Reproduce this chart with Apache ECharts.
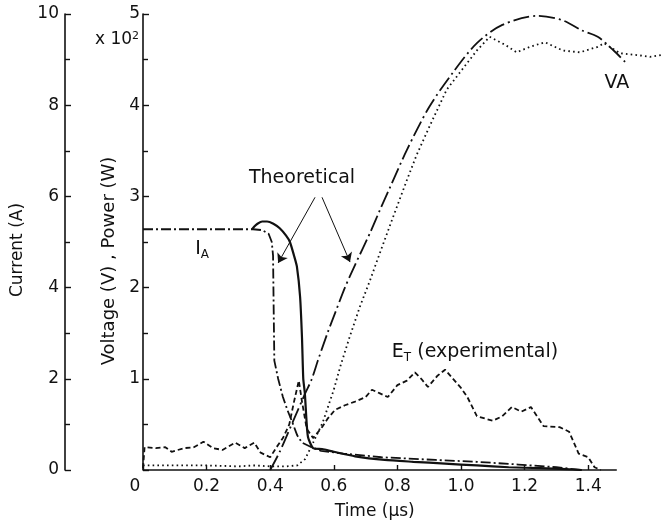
<!DOCTYPE html>
<html>
<head>
<meta charset="utf-8">
<script src="https://cdn.jsdelivr.net/npm/echarts@6/dist/echarts.min.js"></script>
<style>
html, body { margin: 0; padding: 0; background: #fff; }
#chart { width: 665px; height: 528px; }
</style>
</head>
<body>
<div id="chart"></div>
<script>
// time in µs; current in A; voltage / power in units of 10^2
const timeTicks = [0, 0.2, 0.4, 0.6, 0.8, 1.0, 1.2, 1.4];
const iaTheory = [
    [0, 5.28], [0.2, 5.28], [0.346, 5.28], [0.375, 5.26], [0.395, 5.18], [0.405, 5.0],
    [0.409, 4.7], [0.411, 3.5], [0.413, 2.4], [0.425, 2.0], [0.44, 1.6], [0.455, 1.3],
    [0.47, 1.04], [0.485, 0.76], [0.5, 0.6], [0.53, 0.5], [0.56, 0.42], [0.63, 0.36],
    [0.75, 0.28], [0.92, 0.22], [1.05, 0.18], [1.18, 0.12], [1.3, 0.06], [1.38, 0],
];
const iaExp = [
    [0.343, 5.28], [0.35, 5.34], [0.36, 5.4], [0.375, 5.45], [0.39, 5.45], [0.41, 5.4],
    [0.43, 5.3], [0.45, 5.14], [0.462, 5.0], [0.475, 4.7], [0.484, 4.46], [0.494, 3.8],
    [0.5, 2.9], [0.504, 2.0], [0.509, 1.68], [0.514, 1.1], [0.519, 0.72], [0.535, 0.48],
    [0.563, 0.46], [0.6, 0.4], [0.667, 0.3], [0.76, 0.22], [0.85, 0.18], [0.95, 0.14],
    [1.05, 0.1], [1.15, 0.06], [1.25, 0.04], [1.33, 0.02], [1.38, 0],
];
const vaTheory = [
    [0.4, 0], [0.43, 0.2], [0.47, 0.52], [0.51, 0.84], [0.53, 0.99], [0.55, 1.2],
    [0.58, 1.5], [0.604, 1.72], [0.635, 2.0], [0.667, 2.25], [0.714, 2.6], [0.745, 2.85],
    [0.777, 3.1], [0.83, 3.51], [0.9, 3.98], [0.975, 4.36], [1.05, 4.68], [1.13, 4.88],
    [1.24, 4.98], [1.32, 4.93], [1.38, 4.82], [1.43, 4.75], [1.48, 4.6], [1.52, 4.46],
];
const vaExp = [
    [0, 0.05], [0.1, 0.05], [0.2, 0.05], [0.3, 0.04], [0.35, 0.05], [0.4, 0.04],
    [0.45, 0.04], [0.485, 0.05], [0.51, 0.12], [0.535, 0.3], [0.565, 0.52], [0.6, 0.88],
    [0.62, 1.13], [0.65, 1.46], [0.682, 1.79], [0.714, 2.08], [0.745, 2.38], [0.786, 2.77],
    [0.83, 3.18], [0.86, 3.45], [0.9, 3.76], [0.955, 4.17], [1.01, 4.42], [1.05, 4.6],
    [1.09, 4.75], [1.14, 4.66], [1.175, 4.58], [1.217, 4.64], [1.264, 4.69], [1.32, 4.6],
    [1.374, 4.58], [1.43, 4.64], [1.45, 4.68], [1.5, 4.57], [1.553, 4.55], [1.594, 4.53],
    [1.63, 4.55],
];
const etExp = [
    [0, 0.02], [0.005, 0.25], [0.04, 0.24], [0.07, 0.25], [0.09, 0.2], [0.13, 0.24],
    [0.16, 0.25], [0.19, 0.31], [0.22, 0.24], [0.25, 0.22], [0.29, 0.3], [0.32, 0.24],
    [0.35, 0.3], [0.37, 0.19], [0.4, 0.14], [0.42, 0.25], [0.44, 0.35], [0.46, 0.5],
    [0.475, 0.75], [0.49, 0.98], [0.5, 0.75], [0.515, 0.45], [0.535, 0.35], [0.563, 0.47],
    [0.58, 0.56], [0.604, 0.66], [0.635, 0.71], [0.667, 0.75], [0.7, 0.8], [0.72, 0.88],
    [0.745, 0.84], [0.77, 0.8], [0.8, 0.93], [0.83, 0.98], [0.855, 1.07], [0.875, 1.0],
    [0.896, 0.91], [0.925, 1.03], [0.95, 1.1], [0.975, 1.0], [1.0, 0.9], [1.02, 0.8],
    [1.05, 0.59], [1.1, 0.54], [1.13, 0.59], [1.16, 0.69], [1.19, 0.64], [1.22, 0.69],
    [1.26, 0.48], [1.31, 0.47], [1.34, 0.42], [1.37, 0.18], [1.4, 0.14], [1.42, 0.03],
    [1.44, 0],
];
const timeAxisEnd = 1.49;

const FONT = "DejaVu Sans";
const INK = "#111";

const chart = echarts.init(document.getElementById("chart"), null, { renderer: "canvas" });

function yAxisBase() {
    return {
        type: "value",
        position: "left",
        axisLine: { show: true, lineStyle: { color: INK, width: 1.6 } },
        axisTick: { show: true, inside: true, length: 6, lineStyle: { color: INK, width: 1.4 } },
        minorTick: { show: true, splitNumber: 2, length: 5, lineStyle: { color: INK, width: 1.4 } },
        splitLine: { show: false },
        nameLocation: "middle",
        nameRotate: 90,
    };
}

const label = (fmt) => ({
    show: true,
    color: INK,
    fontFamily: FONT,
    fontSize: 19,
    formatter: fmt,
    rich: {
        m: { fontFamily: FONT, fontSize: 19, color: INK, verticalAlign: "bottom", padding: [0, 0, 3, 0] },
        s: { fontFamily: FONT, fontSize: 12, color: INK, verticalAlign: "bottom" },
    },
});

const option = {
    animation: false,
    backgroundColor: "#fff",
    grid: { left: 143, right: 0.5, top: 14, bottom: 58, containLabel: false },
    xAxis: {
        type: "value",
        min: 0,
        max: 1.64,
        axisLine: { show: false },
        axisTick: {
            show: true,
            inside: true,
            length: 5,
            customValues: timeTicks,
            lineStyle: { color: INK, width: 1.4 },
        },
        splitLine: { show: false },
        axisLabel: {
            color: INK,
            fontFamily: FONT,
            fontSize: 17,
            margin: 8,
            customValues: timeTicks,
            formatter: (v) => (v === 0 ? "0   " : v.toFixed(1)),
        },
        name: "Time (µs)",
        nameLocation: "middle",
        nameGap: 33,
        nameTextStyle: {
            color: INK,
            fontFamily: FONT,
            fontSize: 17,
            padding: [0, 58, 0, 0],
        },
    },
    yAxis: [
        {
            ...yAxisBase(),
            min: 0,
            max: 5,
            interval: 1,
            axisLabel: { color: INK, fontFamily: FONT, fontSize: 17, margin: 3, showMinLabel: false },
            name: "Voltage (V) , Power (W)",
            nameGap: 15,
            nameTextStyle: { color: INK, fontFamily: FONT, fontSize: 18, padding: [0, 38, 0, 0] },
        },
        {
            ...yAxisBase(),
            min: 0,
            max: 10,
            interval: 2,
            offset: 78,
            axisLabel: { color: INK, fontFamily: FONT, fontSize: 17, margin: 6 },
            name: "Current (A)",
            nameGap: 36,
            nameTextStyle: { color: INK, fontFamily: FONT, fontSize: 17, padding: [0, 16, 0, 0] },
        },
    ],
    graphic: [
        {
            type: "text",
            left: 95,
            top: 31,
            style: {
                text: "x 10{s|2}",
                fill: INK,
                font: `17px ${FONT}`,
                rich: { s: { fontSize: 11, fontFamily: FONT, verticalAlign: "top", fill: INK } },
            },
        },
    ],
    series: [
        {
            name: "I_A theoretical",
            type: "line",
            yAxisIndex: 1,
            showSymbol: false,
            data: iaTheory,
            lineStyle: { color: INK, width: 1.8, type: [10, 3, 2, 3] },
        },
        {
            name: "I_A experimental",
            type: "line",
            yAxisIndex: 1,
            showSymbol: false,
            smooth: 0.2,
            data: iaExp,
            lineStyle: { color: INK, width: 2.2, type: "solid" },
        },
        {
            name: "VA theoretical",
            type: "line",
            yAxisIndex: 0,
            showSymbol: false,
            smooth: 0.3,
            data: vaTheory,
            lineStyle: { color: INK, width: 1.8, type: [16, 4, 2, 4] },
            markLine: {
                silent: true,
                symbol: ["none", "arrow"],
                symbolSize: 9,
                label: { show: false },
                lineStyle: { color: INK, width: 1, type: "solid" },
                data: [
                    [{ coord: [0.541, 2.99] }, { coord: [0.425, 2.27] }],
                    [{ coord: [0.563, 2.99] }, { coord: [0.651, 2.28] }],
                ],
            },
            markPoint: {
                silent: true,
                symbol: "circle",
                symbolSize: 0,
                itemStyle: { color: "transparent" },
                data: [
                    { coord: [0.5, 3.2], label: label("Theoretical") },
                    { coord: [1.49, 4.24], label: label("VA") },
                    { coord: [1.044, 1.28], label: label("{m|E}{s|T}{m| (experimental)}") },
                    { coord: [0.186, 2.41], label: label("{m|I}{s|A}") },
                ],
            },
        },
        {
            name: "VA experimental",
            type: "line",
            yAxisIndex: 0,
            showSymbol: false,
            data: vaExp,
            lineStyle: { color: INK, width: 1.8, type: [1.6, 3.2] },
        },
        {
            name: "ET experimental",
            type: "line",
            yAxisIndex: 0,
            showSymbol: false,
            data: etExp,
            lineStyle: { color: INK, width: 1.8, type: [5, 3] },
            markLine: {
                silent: true,
                symbol: "none",
                label: { show: false },
                lineStyle: { color: INK, width: 1.6, type: "solid" },
                data: [[{ coord: [0, 0] }, { coord: [timeAxisEnd, 0] }]],
            },
        },
    ],
};

chart.setOption(option);
</script>
</body>
</html>
